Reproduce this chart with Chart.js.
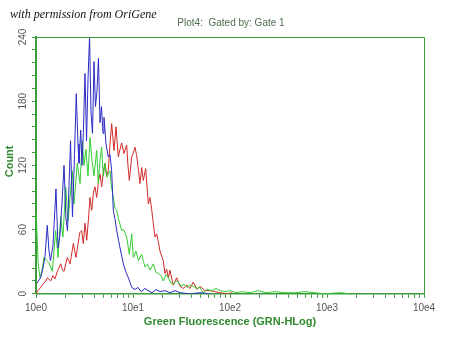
<!DOCTYPE html>
<html>
<head>
<meta charset="utf-8">
<script src="https://cdn.jsdelivr.net/npm/chart.js@4/dist/chart.umd.min.js"></script>
<style>
  body { margin: 0; background: #fff; }
  #wrap { position: relative; width: 450px; height: 338px; }
  #note {
    position: absolute; left: 10px; top: 7px;
    font: italic 12px "Liberation Serif", serif; color: #111;
  }
</style>
</head>
<body>
<div id="wrap">
  <canvas id="chart" width="450" height="338"></canvas>
  <div id="note">with permission from OriGene</div>
</div>
<script>
// x positions are in decades (0 = 10e0, 4 = 10e4)
const blueX = [0.010, 0.048, 0.072, 0.093, 0.116, 0.134, 0.149, 0.175, 0.206, 0.227, 0.247, 0.268, 0.289, 0.309, 0.325,
  0.340, 0.356, 0.376, 0.397, 0.415, 0.433, 0.443, 0.461, 0.474, 0.488, 0.505, 0.521, 0.536, 0.552, 0.567, 0.582,
  0.598, 0.613, 0.629, 0.644, 0.660, 0.675, 0.691, 0.701, 0.722, 0.745, 0.763, 0.780, 0.797, 0.814, 0.832, 0.851,
  0.866, 0.887, 0.900, 0.928, 0.952, 0.987, 1.021, 1.052, 1.082, 1.124, 1.155, 1.196, 1.237, 1.278, 1.330, 1.381,
  1.433, 1.485, 1.588, 1.691, 1.794];
const blueCount = [10, 15, 24, 35, 64, 40, 31, 45, 98, 43, 55, 85, 120, 70, 59,
  100, 143, 72, 130, 187, 140, 122, 153, 120, 150, 206, 143, 200, 240, 170, 150,
  217, 175, 190, 220, 160, 175, 150, 165, 140, 128, 130, 115, 78, 70, 59, 50,
  43, 34, 28, 20, 15, 6, 4, 6, 2, 5, 3, 1, 4, 2, 3, 1,
  3, 1, 0, 1, 0];

const greenX = [0.003, 0.021, 0.041, 0.062, 0.082, 0.103, 0.134, 0.168, 0.186, 0.203, 0.227, 0.255, 0.278, 0.306, 0.330,
  0.351, 0.374, 0.392, 0.426, 0.454, 0.477, 0.495, 0.515, 0.536, 0.557, 0.577, 0.598, 0.626, 0.642, 0.660, 0.677,
  0.694, 0.711, 0.732, 0.763, 0.778, 0.797, 0.814, 0.832, 0.851, 0.866, 0.883, 0.902, 0.918, 0.935, 0.952, 0.962,
  0.987, 1.003, 1.031, 1.055, 1.090, 1.108, 1.124, 1.149, 1.175, 1.209, 1.237, 1.261, 1.289, 1.312, 1.340, 1.364,
  1.392, 1.415, 1.443, 1.467, 1.495, 1.526, 1.557, 1.588, 1.619, 1.660, 1.691, 1.722, 1.763, 1.814, 1.856, 1.897,
  1.948, 2.000, 2.062, 2.124, 2.206, 2.289, 2.371, 2.464, 2.567, 2.670, 2.773, 2.876, 2.979, 3.134, 3.237];
const greenCount = [75, 30, 15, 22, 34, 32, 29, 21, 40, 59, 34, 72, 53, 100, 68,
  90, 115, 84, 122, 103, 143, 120, 135, 110, 146, 125, 110, 134, 103, 125, 137,
  110, 122, 109, 115, 100, 90, 80, 78, 70, 65, 59, 60, 57, 53, 43, 37,
  56, 34, 40, 31, 37, 30, 25, 28, 22, 28, 20, 19, 17, 12, 18, 15,
  10, 9, 12, 11, 7, 9, 6, 8, 7, 5, 6, 1, 4, 3, 5, 3,
  2, 3, 1, 2, 1, 3, 1, 2, 1, 1, 2, 1, 0, 1, 0];

const redX = [0.000, 0.021, 0.048, 0.072, 0.093, 0.116, 0.152, 0.175, 0.196, 0.220, 0.255, 0.273, 0.289, 0.323, 0.351,
  0.385, 0.412, 0.451, 0.471, 0.488, 0.505, 0.523, 0.541, 0.557, 0.574, 0.593, 0.608, 0.626, 0.644, 0.660, 0.677,
  0.696, 0.711, 0.727, 0.745, 0.763, 0.780, 0.804, 0.825, 0.848, 0.866, 0.883, 0.907, 0.935, 0.948, 0.962, 0.987,
  1.005, 1.021, 1.038, 1.057, 1.072, 1.090, 1.106, 1.131, 1.158, 1.175, 1.191, 1.209, 1.227, 1.244, 1.263, 1.278,
  1.312, 1.330, 1.347, 1.364, 1.381, 1.415, 1.450, 1.485, 1.519, 1.554, 1.588, 1.622, 1.660, 1.691, 1.742, 1.794,
  1.845, 1.897, 1.966, 2.021];
const redCount = [0, 3, 6, 9, 11, 15, 12, 17, 14, 21, 28, 22, 21, 34, 28,
  47, 34, 57, 59, 47, 66, 50, 70, 90, 78, 95, 100, 90, 105, 112, 100,
  115, 122, 110, 115, 140, 159, 134, 156, 128, 135, 141, 131, 139, 120, 106, 128,
  132, 137, 129, 115, 103, 118, 106, 117, 84, 90, 80, 66, 53, 56, 48, 40,
  31, 19, 23, 15, 22, 8, 15, 7, 5, 8, 5, 11, 4, 7, 3, 3,
  2, 1, 0, 1];

const xTickLabels = ['10e0', '10e1', '10e2', '10e3', '10e4'];
const yTickLabels = [0, 60, 120, 180, 240];

const axisGreen = '#3c9a3c';
const titleGreen = '#2f8a2f';
const fontFamily = '"Liberation Sans", Arial, sans-serif';

function pts(xs, ys) {
  return xs.map((x, i) => ({ x: x, y: ys[i] }));
}

// top/right frame, rotated y labels and the y title
const frame = {
  id: 'frame',
  afterDraw(chart) {
    const { ctx, chartArea: a, scales } = chart;
    ctx.save();
    ctx.strokeStyle = axisGreen;
    ctx.lineWidth = 1;
    ctx.beginPath();
    ctx.moveTo(a.left, a.top + 0.5);
    ctx.lineTo(a.right + 0.5, a.top + 0.5);
    ctx.lineTo(a.right + 0.5, a.bottom);
    ctx.stroke();

    ctx.textAlign = 'center';
    ctx.textBaseline = 'middle';
    ctx.fillStyle = '#555';
    ctx.font = '10px ' + fontFamily;
    yTickLabels.forEach(v => {
      const y = scales.y.getPixelForValue(v);
      ctx.save();
      ctx.translate(a.left - 13, y);
      ctx.rotate(-Math.PI / 2);
      ctx.fillText(String(v), 0, 0);
      ctx.restore();
    });

    ctx.fillStyle = titleGreen;
    ctx.font = 'bold 11px ' + fontFamily;
    ctx.save();
    ctx.translate(a.left - 26, (a.top + a.bottom) / 2 - 4);
    ctx.rotate(-Math.PI / 2);
    ctx.fillText('Count', 0, 0);
    ctx.restore();
    ctx.restore();
  }
};

const config = {
  type: 'line',
  data: {
    datasets: [
      { label: 'blue', data: pts(blueX, blueCount), borderColor: '#2b2bc4' },
      { label: 'green', data: pts(greenX, greenCount), borderColor: '#33cc33' },
      { label: 'red', data: pts(redX, redCount), borderColor: '#d42a2a' }
    ]
  },
  options: {
    responsive: false,
    animation: false,
    layout: { padding: { left: 12, right: 0, top: 0, bottom: 5 } },
    elements: {
      point: { radius: 0 },
      line: { borderWidth: 1, tension: 0 }
    },
    plugins: {
      legend: { display: false },
      tooltip: { enabled: false },
      title: {
        display: true,
        text: 'Plot4:  Gated by: Gate 1',
        color: '#4e6e4e',
        font: { family: fontFamily, size: 10, weight: 'normal' },
        padding: { top: 17, bottom: 8 }
      }
    },
    scales: {
      x: {
        type: 'linear',
        min: 0,
        max: 4,
        afterBuildTicks: scale => {
          const t = [];
          for (let d = 0; d < 4; d++) {
            for (let k = 1; k < 10; k++) t.push({ value: d + Math.log10(k) });
          }
          t.push({ value: 4 });
          scale.ticks = t;
        },
        grid: { display: true, drawOnChartArea: false, tickLength: 4, color: axisGreen },
        border: { color: axisGreen, width: 1.5 },
        ticks: {
          autoSkip: false,
          maxRotation: 0,
          padding: 4,
          color: '#555',
          font: { family: fontFamily, size: 10 },
          callback: v => {
            const r = Math.round(v);
            return Math.abs(v - r) < 1e-6 ? xTickLabels[r] : '';
          }
        },
        title: {
          display: true,
          text: 'Green Fluorescence (GRN-HLog)',
          color: titleGreen,
          font: { family: fontFamily, size: 11, weight: 'bold' },
          padding: { top: -2, bottom: 4 }
        }
      },
      y: {
        min: 0,
        max: 240,
        afterFit: scale => { scale.width = 24; },
        grid: { display: true, drawOnChartArea: false, tickLength: 4, color: axisGreen },
        border: { color: axisGreen, width: 2 },
        ticks: { stepSize: 12, display: false },
        title: { display: false }
      },
      y2: {
        position: 'right',
        min: 0,
        max: 240,
        afterFit: scale => { scale.width = 26; },
        grid: { display: false },
        border: { display: false },
        ticks: { display: false }
      }
    }
  },
  plugins: [frame]
};

const ctx = document.getElementById('chart').getContext('2d');
new Chart(ctx, config);
</script>
</body>
</html>
